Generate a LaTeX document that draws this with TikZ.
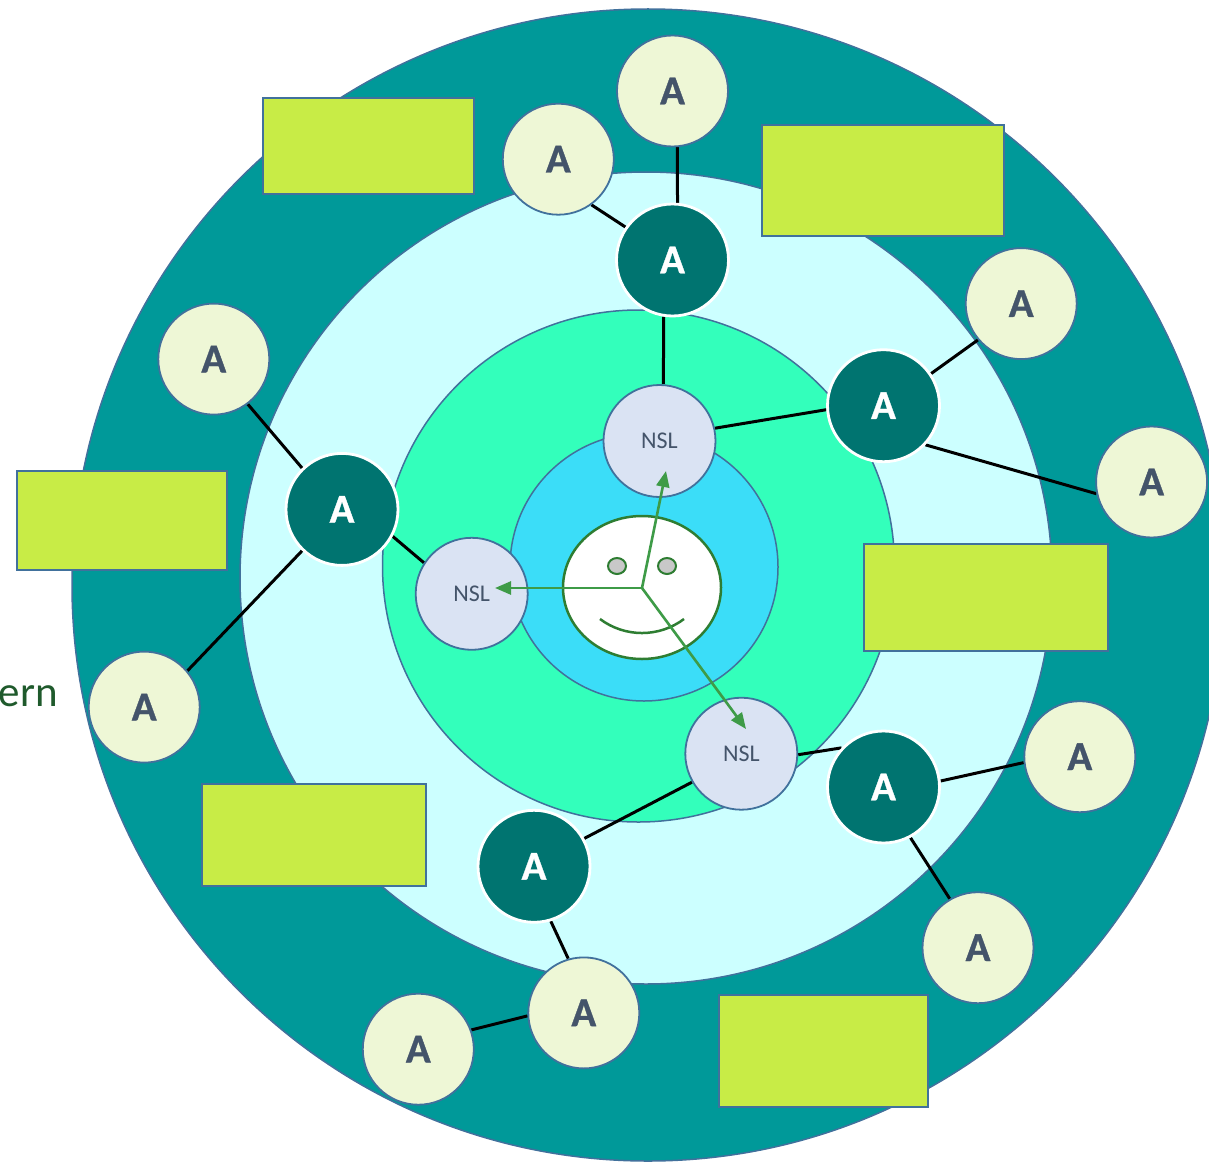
\documentclass[tikz,border=0pt]{standalone}
\usepackage{fontspec}
\setmainfont{Carlito}
\newfontfamily\heavyfont{Carlito}[UprightFeatures={FakeBold=0.8},BoldFeatures={FakeBold=0.8}]
\usetikzlibrary{arrows.meta}
\definecolor{teal1}{HTML}{009999}
\definecolor{lcyan}{HTML}{CCFFFF}
\definecolor{mint}{HTML}{33FFBB}
\definecolor{cyan1}{HTML}{3BDDF8}
\definecolor{bord}{HTML}{41719C}
\definecolor{darkA}{HTML}{007470}
\definecolor{lightA}{HTML}{EEF7D6}
\definecolor{nslfill}{HTML}{DAE3F3}
\definecolor{txt}{HTML}{44546A}
\definecolor{boxg}{HTML}{C8EC46}
\definecolor{faceg}{HTML}{2E7D32}
\definecolor{arrg}{HTML}{3E9B47}
\definecolor{erng}{HTML}{1F5A2C}
\definecolor{eyeg}{HTML}{C8C8C8}
\pgfdeclarelayer{back}
\pgfdeclarelayer{mid}
\pgfsetlayers{back,mid,main}
\begin{document}
\begin{tikzpicture}[x=1pt,y=-1pt,
  ring/.style={draw=bord,line width=1.5pt},
  darknode/.style={circle,fill=darkA,draw=white,line width=2.8pt,minimum size=112pt,inner sep=0pt,text=white,font=\heavyfont\bfseries\fontsize{41}{41}\selectfont},
  lightnode/.style={circle,fill=lightA,draw=bord,line width=1.8pt,minimum size=111pt,inner sep=0pt,text=txt,font=\heavyfont\bfseries\fontsize{41}{41}\selectfont},
  nslnode/.style={circle,fill=nslfill,draw=bord,line width=1.8pt,minimum size=112pt,inner sep=0pt,text=txt,font=\fontsize{24}{24}\selectfont},
  gbox/.style={draw=bord,fill=boxg,line width=1.8pt,anchor=north west,inner sep=0pt},
  link/.style={line width=3pt,black},
  garrow/.style={arrg,line width=2.6pt,-{Triangle[length=16pt,width=13pt]}}
]
\useasboundingbox (0,0) rectangle (1209,1161);
\clip (0,0) rectangle (1209,1161);
\begin{pgfonlayer}{back}
  \path[ring,fill=teal1] (648,585) circle[radius=576pt];
  \path[ring,fill=lcyan] (646,578) circle[radius=406pt];
  \path[ring,fill=mint] (638.5,566) circle[radius=256pt];
  \path[ring,fill=cyan1] (644,567) circle[radius=134pt];
  % smiley face
  \draw[faceg,fill=white,line width=2.5pt] (642,587.5) ellipse[x radius=79pt,y radius=71.5pt];
  \draw[faceg,fill=eyeg,line width=2pt] (617,566) ellipse[x radius=9pt,y radius=8pt];
  \draw[faceg,fill=eyeg,line width=2pt] (667,566) ellipse[x radius=9pt,y radius=8pt];
  \draw[faceg,line width=2.5pt] (600,619) .. controls (624.9,637.7) and (659.1,637.7) .. (684,619);
  % green boxes
  \node[gbox,minimum width=211pt,minimum height=96pt] (b1) at (262,97) {};
  \node[gbox,minimum width=242pt,minimum height=111pt] (b2) at (761,124) {};
  \node[gbox,minimum width=210pt,minimum height=99pt] (b3) at (16,470) {};
  \node[gbox,minimum width=244pt,minimum height=107pt] (b4) at (863,543) {};
  \node[gbox,minimum width=224pt,minimum height=102pt] (b5) at (201,783) {};
  \node[gbox,minimum width=209pt,minimum height=112pt] (b6) at (718,994) {};
\end{pgfonlayer}

\node[anchor=base east,text=erng,font=\fontsize{43}{43}\selectfont,inner sep=0pt] (ern) at (58,706) {ern};

% NSL nodes
\node[nslnode] (n1) at (659.5,441) {NSL};
\node[nslnode] (n2) at (471.7,593.8) {NSL};
\node[nslnode] (n3) at (741.3,753.7) {NSL};

% dark A nodes
\node[darknode] (d1) at (672.5,260) {A};
\node[darknode] (d2) at (883.5,405.7) {A};
\node[darknode] (d3) at (342,509.4) {A};
\node[darknode] (d4) at (883.5,787) {A};
\node[darknode] (d5) at (534,866.3) {A};

% light A nodes
\node[lightnode] (l1) at (672.5,91) {A};
\node[lightnode] (l2) at (558.3,159.2) {A};
\node[lightnode] (l3) at (1021.2,303.6) {A};
\node[lightnode] (l4) at (1151.6,482) {A};
\node[lightnode] (l5) at (213.8,359.1) {A};
\node[lightnode] (l6) at (144.2,707.1) {A};
\node[lightnode] (l7) at (1079.8,756.7) {A};
\node[lightnode] (l8) at (978,947.7) {A};
\node[lightnode] (l9) at (583.8,1012.9) {A};
\node[lightnode] (l10) at (418.3,1049.2) {A};

\begin{pgfonlayer}{mid}
  \draw[link] (l1.-85) -- (d1.85);
  \draw[link] (l2.-54) -- (d1.145);
  \draw[link] (d1.-99) -- (n1.86);
  \draw[link] (n1.13) -- (d2.184);
  \draw[link] (d2.34) -- (l3.220);
  \draw[link] (d2.-43) -- (l4.192);
  \draw[link] (l5.-53) -- (d3.134);
  \draw[link] (d3.-28) -- (n2.147);
  \draw[link] (d3.226) -- (l6.40);
  \draw[link] (n3.-1) -- (d4.137);
  \draw[link] (d4.6) -- (l7.186);
  \draw[link] (d4.-62) -- (l8.120);
  \draw[link] (n3.210) -- (d5.29);
  \draw[link] (d5.-73) -- (l9.106);
  \draw[link] (l10.20) -- (l9.183);
\end{pgfonlayer}

% arrows from the face centre
\coordinate (fc) at (642,588);
\coordinate (t1) at (666,471);
\coordinate (t2) at (495,588);
\coordinate (t3) at (746,729);
\draw[garrow] (fc) -- (t1);
\draw[garrow] (fc) -- (t2);
\draw[garrow] (fc) -- (t3);
\end{tikzpicture}
\end{document}
